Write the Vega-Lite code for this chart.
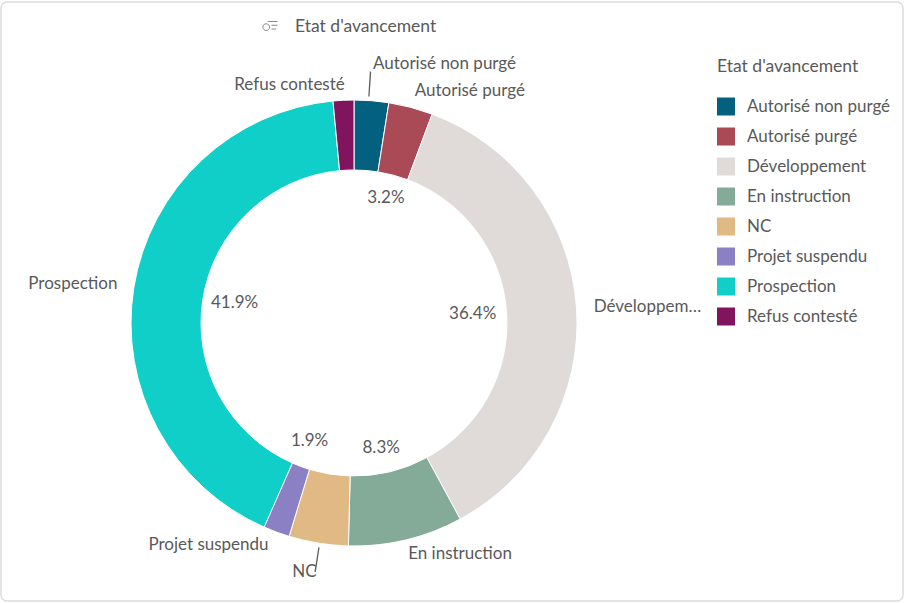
{"$schema":"https://vega.github.io/schema/vega-lite/v6.json","width":460,"height":460,"autosize":{"type":"none"},"padding":{"left":124,"top":93,"right":320,"bottom":50},"background":"white","config":{"view":{"stroke":null},"text":{"font":"Lato","fontSize":17,"color":"#595959"}},"data":{"values":[{"etat":"Autorisé non purgé","part":2.5,"nom":"Autorisé non purgé","pct":""},{"etat":"Autorisé purgé","part":3.2,"nom":"Autorisé purgé","pct":"3.2%"},{"etat":"Développement","part":36.4,"nom":"Développem…","pct":"36.4%"},{"etat":"En instruction","part":8.3,"nom":"En instruction","pct":"8.3%"},{"etat":"NC","part":4.3,"nom":"NC","pct":""},{"etat":"Projet suspendu","part":1.9,"nom":"Projet suspendu","pct":"1.9%"},{"etat":"Prospection","part":41.9,"nom":"Prospection","pct":"41.9%"},{"etat":"Refus contesté","part":1.5,"nom":"Refus contesté","pct":""}]},"layer":[{"data":{"values":[{"panneau":1}]},"mark":{"type":"rect","fill":"white","stroke":"#dcdcdc","strokeWidth":1.5,"cornerRadius":6},"encoding":{"x":{"value":-123},"x2":{"value":779},"y":{"value":-91},"y2":{"value":508}}},{"data":{"values":[{"titre":"Etat d'avancement"}]},"mark":{"type":"text","align":"left","baseline":"middle","fontSize":17.5},"encoding":{"x":{"value":171},"y":{"value":-66},"text":{"field":"titre"}}},{"data":{"values":[{"icone":1}]},"mark":{"type":"point","shape":"M-0.95,0.15A0.45,0.45 0 1 1 -0.05,0.15A0.45,0.45 0 1 1 -0.95,0.15Z M0.2,-0.1H1 M0.2,0.4H0.8 M-0.3,-0.6H1","size":225,"stroke":"#8a8a8a","strokeWidth":1,"filled":false,"opacity":1},"encoding":{"x":{"value":146},"y":{"value":-67}}},{"mark":{"type":"arc","outerRadius":223,"innerRadius":153,"stroke":"white","strokeWidth":1},"encoding":{"theta":{"field":"part","type":"quantitative","stack":true,"scale":{"domain":[0,100]}},"color":{"field":"etat","type":"nominal","scale":{"domain":["Autorisé non purgé","Autorisé purgé","Développement","En instruction","NC","Projet suspendu","Prospection","Refus contesté"],"range":["#03607f","#a94a56","#e0dbd8","#84ab98","#e0b985","#8b80c4","#0fcfc8","#80145f"]},"legend":{"orient":"none","legendX":593,"legendY":-35,"title":"Etat d'avancement","titleFont":"Lato","titleFontSize":17.5,"titleFontWeight":"normal","titleColor":"#595959","titlePadding":22,"labelFont":"Lato","labelFontSize":17,"labelColor":"#595959","symbolType":"square","symbolSize":324,"symbolStrokeWidth":0,"symbolOpacity":1,"rowPadding":12,"labelOffset":12,"labelLimit":200}}}},
{"mark":{"type":"text","radius":125,"dy":-4},"encoding":{"theta":{"field":"part","type":"quantitative","stack":true},"order":{"field":"etat"},"detail":{"field":"etat"},"text":{"condition":{"test":"datum.etat==='Autorisé purgé'","field":"pct"},"value":""}}},
{"mark":{"type":"text","radius":125,"dx":-6},"encoding":{"theta":{"field":"part","type":"quantitative","stack":true},"order":{"field":"etat"},"detail":{"field":"etat"},"text":{"condition":{"test":"datum.etat==='Développement'","field":"pct"},"value":""}}},
{"mark":{"type":"text","radius":125,"dx":-2,"dy":3},"encoding":{"theta":{"field":"part","type":"quantitative","stack":true},"order":{"field":"etat"},"detail":{"field":"etat"},"text":{"condition":{"test":"datum.etat==='En instruction'","field":"pct"},"value":""}}},
{"mark":{"type":"text","radius":125,"dx":-1,"dy":1},"encoding":{"theta":{"field":"part","type":"quantitative","stack":true},"order":{"field":"etat"},"detail":{"field":"etat"},"text":{"condition":{"test":"datum.etat==='Projet suspendu'","field":"pct"},"value":""}}},
{"mark":{"type":"text","radius":125,"dx":4},"encoding":{"theta":{"field":"part","type":"quantitative","stack":true},"order":{"field":"etat"},"detail":{"field":"etat"},"text":{"condition":{"test":"datum.etat==='Prospection'","field":"pct"},"value":""}}},
{"mark":{"type":"text","radius":223,"dx":73,"dy":-37},"encoding":{"theta":{"field":"part","type":"quantitative","stack":true},"detail":{"field":"etat"},"text":{"condition":{"test":"datum.etat==='Autorisé non purgé'","field":"nom"},"value":""}}},
{"mark":{"type":"text","radius":223,"dx":59,"dy":-16},"encoding":{"theta":{"field":"part","type":"quantitative","stack":true},"detail":{"field":"etat"},"text":{"condition":{"test":"datum.etat==='Autorisé purgé'","field":"nom"},"value":""}}},
{"mark":{"type":"text","radius":223,"dx":71,"dy":-1},"encoding":{"theta":{"field":"part","type":"quantitative","stack":true},"detail":{"field":"etat"},"text":{"condition":{"test":"datum.etat==='Développement'","field":"nom"},"value":""}}},
{"mark":{"type":"text","radius":223,"dx":54,"dy":14},"encoding":{"theta":{"field":"part","type":"quantitative","stack":true},"detail":{"field":"etat"},"text":{"condition":{"test":"datum.etat==='En instruction'","field":"nom"},"value":""}}},
{"mark":{"type":"text","radius":223,"dx":-14,"dy":29},"encoding":{"theta":{"field":"part","type":"quantitative","stack":true},"detail":{"field":"etat"},"text":{"condition":{"test":"datum.etat==='NC'","field":"nom"},"value":""}}},
{"mark":{"type":"text","radius":223,"dx":-68,"dy":13},"encoding":{"theta":{"field":"part","type":"quantitative","stack":true},"detail":{"field":"etat"},"text":{"condition":{"test":"datum.etat==='Projet suspendu'","field":"nom"},"value":""}}},
{"mark":{"type":"text","radius":223,"dx":-61,"dy":-3},"encoding":{"theta":{"field":"part","type":"quantitative","stack":true},"detail":{"field":"etat"},"text":{"condition":{"test":"datum.etat==='Prospection'","field":"nom"},"value":""}}},
{"mark":{"type":"text","radius":223,"dx":-54,"dy":-15},"encoding":{"theta":{"field":"part","type":"quantitative","stack":true},"detail":{"field":"etat"},"text":{"condition":{"test":"datum.etat==='Refus contesté'","field":"nom"},"value":""}}},
{"data":{"values":[{"debut":1.0,"fin":1.09},{"debut":52.42,"fin":52.51}]},"mark":{"type":"arc","radius":252,"radius2":227,"color":"#5f5f5f"},"encoding":{"theta":{"field":"debut","type":"quantitative","stack":null},"theta2":{"field":"fin"}}}]}
